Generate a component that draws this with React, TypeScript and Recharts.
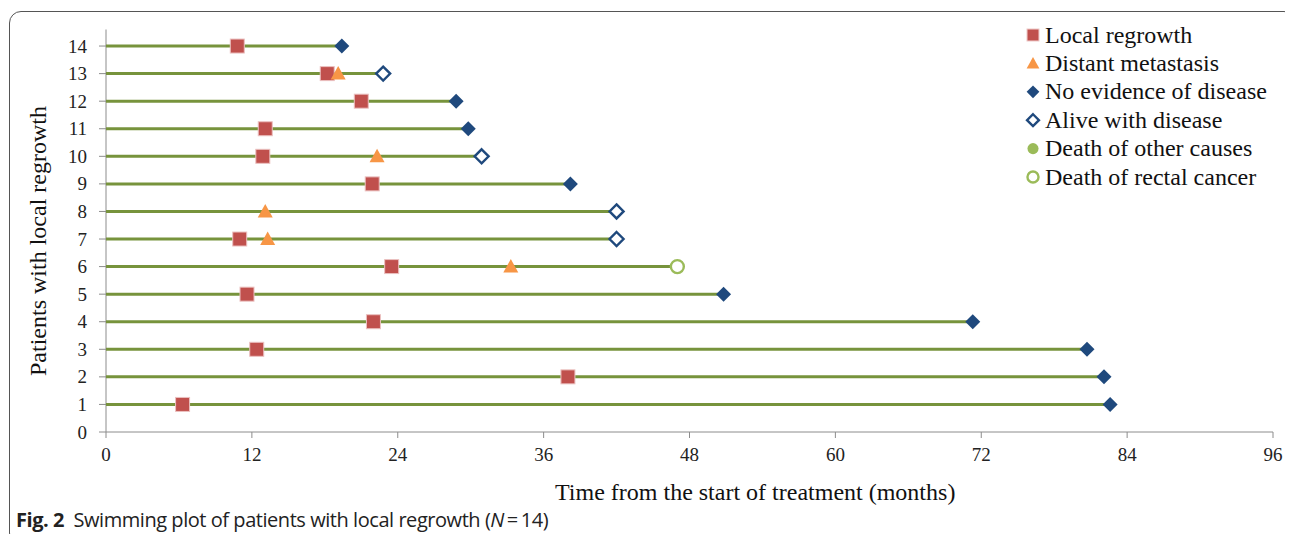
import { Scatter, ScatterChart, XAxis, YAxis } from 'recharts'

const SERIF = '"Liberation Serif", "Times New Roman", serif'

// patients 1..14 (bottom to top)
const PATIENTS = [1, 2, 3, 4, 5, 6, 7, 8, 9, 10, 11, 12, 13, 14]
// length of follow-up in months
const FOLLOW_UP = [82.6, 82.1, 80.7, 71.3, 50.8, 47.0, 42.0, 42.0, 38.2, 30.9, 29.8, 28.8, 22.8, 19.4]
// status at last follow-up: ned = no evidence of disease, awd = alive with disease, drc = death of rectal cancer
const OUTCOME = ['ned', 'ned', 'ned', 'ned', 'ned', 'drc', 'awd', 'awd', 'ned', 'awd', 'ned', 'ned', 'awd', 'ned']
const REGROWTH = [6.3, 38.0, 12.4, 22.0, 11.6, 23.5, 11.0, null, 21.9, 12.9, 13.1, 21.0, 18.2, 10.8]
const METASTASIS = [null, null, null, null, null, 33.3, 13.3, 13.1, null, 22.3, null, null, 19.1, null]

const X_TICKS = [0, 12, 24, 36, 48, 60, 72, 84, 96]
const Y_TICKS = [0, 1, 2, 3, 4, 5, 6, 7, 8, 9, 10, 11, 12, 13, 14]

const LEGEND_ITEMS = [
  { key: 'sq', label: 'Local regrowth' },
  { key: 'tri', label: 'Distant metastasis' },
  { key: 'dia', label: 'No evidence of disease' },
  { key: 'diaOpen', label: 'Alive with disease' },
  { key: 'dot', label: 'Death of other causes' },
  { key: 'ring', label: 'Death of rectal cancer' },
]

const RED = '#C0504D'
const ORANGE = '#F79646'
const NAVY = '#1F497D'
const LIGHT_GREEN = '#9BBB59'
const LINE_GREEN = '#77933C'
const AXIS_GRAY = '#8C8C8C'

type Pt = { x: number; y: number }

const points = (values: (number | null)[]): Pt[] =>
  PATIENTS.map((p, i) => ({ x: values[i] as number, y: p })).filter((d) => d.x != null)

const endPoints = (status: string): Pt[] =>
  PATIENTS.map((p, i) => ({ x: FOLLOW_UP[i], y: p })).filter((_, i) => OUTCOME[i] === status)

function drawIcon(key: string, cx: number, cy: number, s = 1) {
  switch (key) {
    case 'sq':
      return <rect x={cx - 7 * s} y={cy - 7 * s} width={14 * s} height={14 * s} fill={RED} stroke="#EBC1C0" strokeWidth={1} />
    case 'tri':
      return (
        <polygon
          points={`${cx},${cy - 7.5 * s} ${cx + 7.5 * s},${cy + 6 * s} ${cx - 7.5 * s},${cy + 6 * s}`}
          fill={ORANGE}
        />
      )
    case 'dia':
      return (
        <polygon
          points={`${cx},${cy - 7.5 * s} ${cx + 7.5 * s},${cy} ${cx},${cy + 7.5 * s} ${cx - 7.5 * s},${cy}`}
          fill={NAVY}
        />
      )
    case 'diaOpen':
      return (
        <polygon
          points={`${cx},${cy - 7 * s} ${cx + 7 * s},${cy} ${cx},${cy + 7 * s} ${cx - 7 * s},${cy}`}
          fill="#fff"
          stroke={NAVY}
          strokeWidth={2.4}
        />
      )
    case 'dot':
      return <circle cx={cx} cy={cy} r={6.5 * s} fill={LIGHT_GREEN} />
    case 'ring':
      return <circle cx={cx} cy={cy} r={6.5 * s} fill="#fff" stroke={LIGHT_GREEN} strokeWidth={2.4} />
    default:
      return <g />
  }
}

const shapeOf = (key: string) => (props: any) => drawIcon(key, props.cx, props.cy)

const XTick = ({ x, y, payload }: any) => (
  <text x={x} y={y} dy={13} textAnchor="middle" fill="#222" fontFamily={SERIF} fontSize={19}>
    {payload.value}
  </text>
)

const YTick = ({ x, y, payload }: any) => (
  <text x={x} y={y} dy={6.5} textAnchor="end" fill="#222" fontFamily={SERIF} fontSize={19}>
    {payload.value}
  </text>
)

function MarkerLegend() {
  return (
    <svg width={270} height={190} style={{ position: 'absolute', left: 1020, top: 20 }}>
      {LEGEND_ITEMS.map((item, i) => {
        const cy = 15 + i * 28.4
        return (
          <g key={item.key}>
            {drawIcon(item.key, 13, cy, 0.85)}
            <text x={25} y={cy + 7.5} fill="#111" fontFamily={SERIF} fontSize={24}>
              {item.label}
            </text>
          </g>
        )
      })}
    </svg>
  )
}

export default function App() {
  return (
    <div style={{ position: 'relative', width: 1293, height: 542, margin: -8, background: '#fff', overflow: 'hidden' }}>
      {/* figure frame: right and bottom edges sit just outside the picture */}
      <div
        style={{
          position: 'absolute',
          left: 9,
          top: 11,
          width: 1287,
          height: 534,
          border: '1.5px solid #555',
          borderRadius: 12,
          boxSizing: 'border-box',
        }}
      />
      <ScatterChart width={1293} height={542} margin={{ top: 29.5, right: 20, left: 46, bottom: 80 }}>
        <XAxis
          type="number"
          dataKey="x"
          domain={[0, 96]}
          ticks={X_TICKS}
          interval={0}
          stroke={AXIS_GRAY}
          tickSize={6}
          tickMargin={10}
          height={30}
          tick={<XTick />}
        />
        <YAxis
          type="number"
          dataKey="y"
          domain={[0, 14.6]}
          ticks={Y_TICKS}
          interval={0}
          stroke={AXIS_GRAY}
          tickSize={7}
          tickMargin={12}
          width={60}
          tick={<YTick />}
        />
        {PATIENTS.map((p, i) => (
          <Scatter
            key={`swim-${p}`}
            data={[
              { x: 0, y: p },
              { x: FOLLOW_UP[i], y: p },
            ]}
            line={{ stroke: LINE_GREEN, strokeWidth: 3 }}
            shape={() => <g />}
            isAnimationActive={false}
          />
        ))}
        <Scatter data={points(REGROWTH)} shape={shapeOf('sq')} isAnimationActive={false} />
        <Scatter data={points(METASTASIS)} shape={shapeOf('tri')} isAnimationActive={false} />
        <Scatter data={endPoints('ned')} shape={shapeOf('dia')} isAnimationActive={false} />
        <Scatter data={endPoints('awd')} shape={shapeOf('diaOpen')} isAnimationActive={false} />
        <Scatter data={endPoints('doc')} shape={shapeOf('dot')} isAnimationActive={false} />
        <Scatter data={endPoints('drc')} shape={shapeOf('ring')} isAnimationActive={false} />
      </ScatterChart>
      <MarkerLegend />
      <div
        style={{
          position: 'absolute',
          left: 555,
          top: 478,
          fontFamily: SERIF,
          fontSize: 24,
          lineHeight: '28px',
          color: '#111',
          whiteSpace: 'nowrap',
        }}
      >
        Time from the start of treatment (months)
      </div>
      <div
        style={{
          position: 'absolute',
          left: 38,
          top: 241,
          transform: 'translate(-50%, -50%) rotate(-90deg)',
          fontFamily: SERIF,
          fontSize: 24,
          lineHeight: '28px',
          color: '#111',
          whiteSpace: 'nowrap',
        }}
      >
        Patients with local regrowth
      </div>
      <div
        style={{
          position: 'absolute',
          left: 16,
          top: 506,
          fontFamily: '"Open Sans", "Noto Sans", sans-serif',
          fontSize: 20,
          letterSpacing: -0.45,
          color: '#222',
          whiteSpace: 'nowrap',
        }}
      >
        <b>Fig. 2</b>&nbsp;&nbsp;Swimming plot of patients with local regrowth (<i>N</i>{'\u2009=\u2009'}14)
      </div>
    </div>
  )
}
